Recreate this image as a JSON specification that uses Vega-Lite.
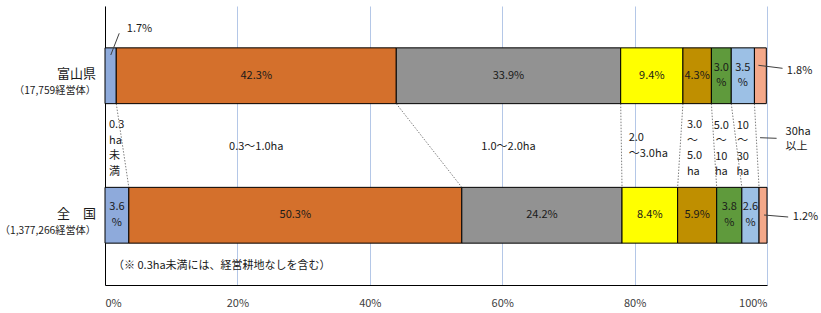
{
  "$schema": "https://vega.github.io/schema/vega-lite/v6.json",
  "width": 662,
  "height": 279,
  "autosize": {"type": "none"},
  "padding": {"left": 105, "top": 6, "right": 54, "bottom": 28},
  "background": "#ffffff",
  "config": {
    "view": {"stroke": null},
    "font": "Noto Sans CJK JP",
    "text": {"font": "Noto Sans CJK JP", "fontSize": 11, "lineBreak": "\n", "lineHeight": 15.5, "baseline": "middle", "color": "#1a1a1a"},
    "axis": {"labelFont": "Noto Sans CJK JP"}
  },
  "datasets": {
    "farms": [
      {"region": "富山県", "order": 1, "cat": "0.3ha未満", "catLabel": "0.3\nha\n未\n満", "pct": 1.7, "label": "1.7%"},
      {"region": "富山県", "order": 2, "cat": "0.3～1.0ha", "catLabel": "0.3～1.0ha", "pct": 42.3, "label": "42.3%"},
      {"region": "富山県", "order": 3, "cat": "1.0～2.0ha", "catLabel": "1.0～2.0ha", "pct": 33.9, "label": "33.9%"},
      {"region": "富山県", "order": 4, "cat": "2.0～3.0ha", "catLabel": "2.0\n～3.0ha", "pct": 9.4, "label": "9.4%"},
      {"region": "富山県", "order": 5, "cat": "3.0～5.0ha", "catLabel": "3.0\n～\n5.0\nha", "pct": 4.3, "label": "4.3%"},
      {"region": "富山県", "order": 6, "cat": "5.0～10ha", "catLabel": "5.0\n～\n10\nha", "pct": 3.0, "label": "3.0\n%"},
      {"region": "富山県", "order": 7, "cat": "10～30ha", "catLabel": "10\n～\n30\nha", "pct": 3.5, "label": "3.5\n%"},
      {"region": "富山県", "order": 8, "cat": "30ha以上", "catLabel": "30ha\n以上", "pct": 1.8, "label": "1.8%"},
      {"region": "全国", "order": 1, "cat": "0.3ha未満", "catLabel": "0.3\nha\n未\n満", "pct": 3.6, "label": "3.6\n%"},
      {"region": "全国", "order": 2, "cat": "0.3～1.0ha", "catLabel": "0.3～1.0ha", "pct": 50.3, "label": "50.3%"},
      {"region": "全国", "order": 3, "cat": "1.0～2.0ha", "catLabel": "1.0～2.0ha", "pct": 24.2, "label": "24.2%"},
      {"region": "全国", "order": 4, "cat": "2.0～3.0ha", "catLabel": "2.0\n～3.0ha", "pct": 8.4, "label": "8.4%"},
      {"region": "全国", "order": 5, "cat": "3.0～5.0ha", "catLabel": "3.0\n～\n5.0\nha", "pct": 5.9, "label": "5.9%"},
      {"region": "全国", "order": 6, "cat": "5.0～10ha", "catLabel": "5.0\n～\n10\nha", "pct": 3.8, "label": "3.8\n%"},
      {"region": "全国", "order": 7, "cat": "10～30ha", "catLabel": "10\n～\n30\nha", "pct": 2.6, "label": "2.6\n%"},
      {"region": "全国", "order": 8, "cat": "30ha以上", "catLabel": "30ha\n以上", "pct": 1.2, "label": "1.2%"}
    ],
    "regions": [
      {"region": "富山県", "name": "富山県", "count": "（17,759経営体）"},
      {"region": "全国", "name": "全　国", "count": "（1,377,266経営体）"}
    ]
  },
  "layer": [
    {
      "data": {"name": "farms"},
      "transform": [
        {"stack": "pct", "groupby": ["region"], "sort": [{"field": "order", "order": "ascending"}], "as": ["s0", "s1"]},
        {"pivot": "region", "value": "s1", "groupby": ["order"]},
        {"filter": "datum.order < 8"}
      ],
      "mark": {"type": "rule", "color": "#7f7f7f", "strokeWidth": 1, "strokeDash": [1.5, 1.5], "y2Offset": -27.9},
      "encoding": {
        "x": {"field": "富山県", "type": "quantitative"},
        "x2": {"field": "全国"},
        "y": {"datum": "富山県", "type": "nominal", "bandPosition": 1},
        "y2": {"datum": "全国"}
      }
    },
    {
      "data": {"name": "farms"},
      "transform": [
        {"stack": "pct", "groupby": ["region"], "sort": [{"field": "order", "order": "ascending"}], "as": ["s", "s_end"]}
      ],
      "layer": [
        {
          "mark": {"type": "bar", "stroke": "#000000", "strokeWidth": 1},
          "encoding": {
            "x": {"field": "s", "type": "quantitative", "scale": {"domain": [0, 100], "nice": false},
              "axis": {"values": [0, 20, 40, 60, 80, 100], "labelExpr": "datum.value + '%'", "title": null, "grid": true, "gridColor": "#b4c7e7", "gridWidth": 1, "domainColor": "#000000", "ticks": false, "labelPadding": 12, "labelFontSize": 11, "labelColor": "#404040"}},
            "x2": {"field": "s_end"},
            "y": {"field": "region", "type": "nominal", "scale": {"domain": ["富山県", "全国"], "paddingInner": 0.6, "paddingOuter": 0.3},
              "axis": {"title": null, "labels": false, "ticks": false, "grid": false, "domainColor": "#000000"}},
            "color": {"field": "cat", "type": "nominal", "legend": null,
              "scale": {"domain": ["0.3ha未満", "0.3～1.0ha", "1.0～2.0ha", "2.0～3.0ha", "3.0～5.0ha", "5.0～10ha", "10～30ha", "30ha以上"],
                "range": ["#8eaadb", "#d4702c", "#929292", "#ffff00", "#bf8f00", "#5f9a3c", "#9cc0e5", "#f3a88a"]}}
          }
        },
        {
          "mark": {"type": "text", "align": "center"},
          "encoding": {
            "x": {"field": "pct", "type": "quantitative", "stack": "zero", "bandPosition": 0.5},
            "order": {"field": "order"},
            "detail": {"field": "cat"},
            "y": {"field": "region", "type": "nominal"},
            "text": {"condition": {"test": "datum.pct >= 2 && indexof(datum.label, '%') - indexof(datum.label, '.') == 2", "field": "label"}, "value": ""}
          }
        },
        {
          "mark": {"type": "text", "align": "center", "baseline": "line-bottom"},
          "encoding": {
            "x": {"field": "pct", "type": "quantitative", "stack": "zero", "bandPosition": 0.5},
            "order": {"field": "order"},
            "detail": {"field": "cat"},
            "y": {"field": "region", "type": "nominal"},
            "text": {"condition": {"test": "datum.pct >= 2 && indexof(datum.label, '%') - indexof(datum.label, '.') != 2", "field": "label"}, "value": ""}
          }
        },
        {
          "mark": {"type": "text", "align": "center"},
          "encoding": {
            "x": {"field": "pct", "type": "quantitative", "stack": "zero", "bandPosition": 0.5},
            "order": {"field": "order"},
            "detail": {"field": "cat"},
            "y": {"field": "region", "type": "nominal", "bandPosition": 1.777},
            "text": {"condition": {"test": "datum.region == '富山県' && (datum.order == 2 || datum.order == 3)", "field": "catLabel"}, "value": ""}
          }
        },
        {
          "mark": {"type": "text", "align": "center"},
          "encoding": {
            "x": {"field": "pct", "type": "quantitative", "stack": "zero", "bandPosition": 0.5},
            "order": {"field": "order"},
            "detail": {"field": "cat"},
            "y": {"field": "region", "type": "nominal", "bandPosition": 1.40},
            "text": {"condition": {"test": "datum.region == '富山県' && (datum.order == 6 || datum.order == 7)", "field": "catLabel"}, "value": ""}
          }
        },
        {
          "transform": [{"filter": "datum.region == '富山県' && (datum.order == 1 || datum.order == 5)"}],
          "mark": {"type": "text", "align": "left", "dx": 4},
          "encoding": {
            "x": {"field": "s", "type": "quantitative"},
            "y": {"datum": "富山県", "type": "nominal", "bandPosition": 1.383},
            "text": {"field": "catLabel"}
          }
        },
        {
          "transform": [{"filter": "datum.region == '富山県' && datum.order == 4"}],
          "mark": {"type": "text", "align": "left", "dx": 8},
          "encoding": {
            "x": {"field": "s", "type": "quantitative"},
            "y": {"datum": "富山県", "type": "nominal", "bandPosition": 1.616},
            "text": {"field": "catLabel"}
          }
        },
        {
          "transform": [{"filter": "datum.region == '富山県' && datum.order == 8"}],
          "mark": {"type": "text", "align": "left"},
          "encoding": {
            "x": {"datum": 102.8, "type": "quantitative"},
            "y": {"datum": "富山県", "type": "nominal", "bandPosition": 1.508},
            "text": {"field": "catLabel"}
          }
        },
        {
          "transform": [{"filter": "datum.region == '富山県' && datum.order == 1"}],
          "mark": {"type": "text", "align": "left"},
          "encoding": {
            "x": {"datum": 3.3, "type": "quantitative"},
            "y": {"datum": "富山県", "type": "nominal", "bandPosition": -0.33},
            "text": {"field": "label"}
          }
        },
        {
          "transform": [{"filter": "datum.region == '富山県' && datum.order == 8"}],
          "mark": {"type": "text", "align": "left"},
          "encoding": {
            "x": {"datum": 103.0, "type": "quantitative"},
            "y": {"datum": "富山県", "type": "nominal", "bandPosition": 0.415},
            "text": {"field": "label"}
          }
        },
        {
          "transform": [{"filter": "datum.region == '全国' && datum.order == 8"}],
          "mark": {"type": "text", "align": "left"},
          "encoding": {
            "x": {"datum": 103.9, "type": "quantitative"},
            "y": {"datum": "全国", "type": "nominal", "bandPosition": 0.537},
            "text": {"field": "label"}
          }
        },
        {
          "transform": [{"filter": "datum.region == '富山県' && datum.order == 1"}],
          "mark": {"type": "rule", "color": "#404040", "strokeWidth": 1, "yOffset": -20.75, "y2Offset": -42.45},
          "encoding": {
            "x": {"datum": 0.87, "type": "quantitative"},
            "x2": {"datum": 2.15},
            "y": {"datum": "富山県", "type": "nominal"},
            "y2": {"datum": "富山県"}
          }
        },
        {
          "transform": [{"filter": "datum.region == '富山県' && datum.order == 8"}],
          "mark": {"type": "rule", "color": "#404040", "strokeWidth": 1, "yOffset": -10.45, "y2Offset": -7.45},
          "encoding": {
            "x": {"datum": 98.7, "type": "quantitative"},
            "x2": {"datum": 102.35},
            "y": {"datum": "富山県", "type": "nominal"},
            "y2": {"datum": "富山県"}
          }
        },
        {
          "transform": [{"filter": "datum.region == '全国' && datum.order == 8"}],
          "mark": {"type": "rule", "color": "#404040", "strokeWidth": 1, "yOffset": -0.25, "y2Offset": 1.75},
          "encoding": {
            "x": {"datum": 99.55, "type": "quantitative"},
            "x2": {"datum": 103.2},
            "y": {"datum": "全国", "type": "nominal"},
            "y2": {"datum": "全国"}
          }
        },
        {
          "transform": [{"filter": "datum.region == '富山県' && datum.order == 8"}],
          "mark": {"type": "rule", "color": "#404040", "strokeWidth": 1, "yOffset": 61.95, "y2Offset": 62.55},
          "encoding": {
            "x": {"datum": 98.95, "type": "quantitative"},
            "x2": {"datum": 101.45},
            "y": {"datum": "富山県", "type": "nominal"},
            "y2": {"datum": "富山県"}
          }
        }
      ]
    },
    {
      "data": {"name": "regions"},
      "layer": [
        {
          "mark": {"type": "text", "align": "right", "dx": -9, "fontSize": 13},
          "encoding": {
            "x": {"datum": 0, "type": "quantitative"},
            "y": {"field": "region", "type": "nominal", "bandPosition": 0.47},
            "text": {"field": "name"}
          }
        },
        {
          "mark": {"type": "text", "align": "right", "dx": -9, "fontSize": 10.2},
          "encoding": {
            "x": {"datum": 0, "type": "quantitative"},
            "y": {"field": "region", "type": "nominal", "bandPosition": 0.78},
            "text": {"field": "count"}
          }
        }
      ]
    },
    {
      "data": {"values": [{"note": "（※ 0.3ha未満には、経営耕地なしを含む）"}]},
      "mark": {"type": "text", "align": "left", "dx": 8},
      "encoding": {
        "x": {"datum": 0, "type": "quantitative"},
        "y": {"datum": "全国", "type": "nominal", "bandPosition": 1.41},
        "text": {"field": "note"}
      }
    }
  ]
}
